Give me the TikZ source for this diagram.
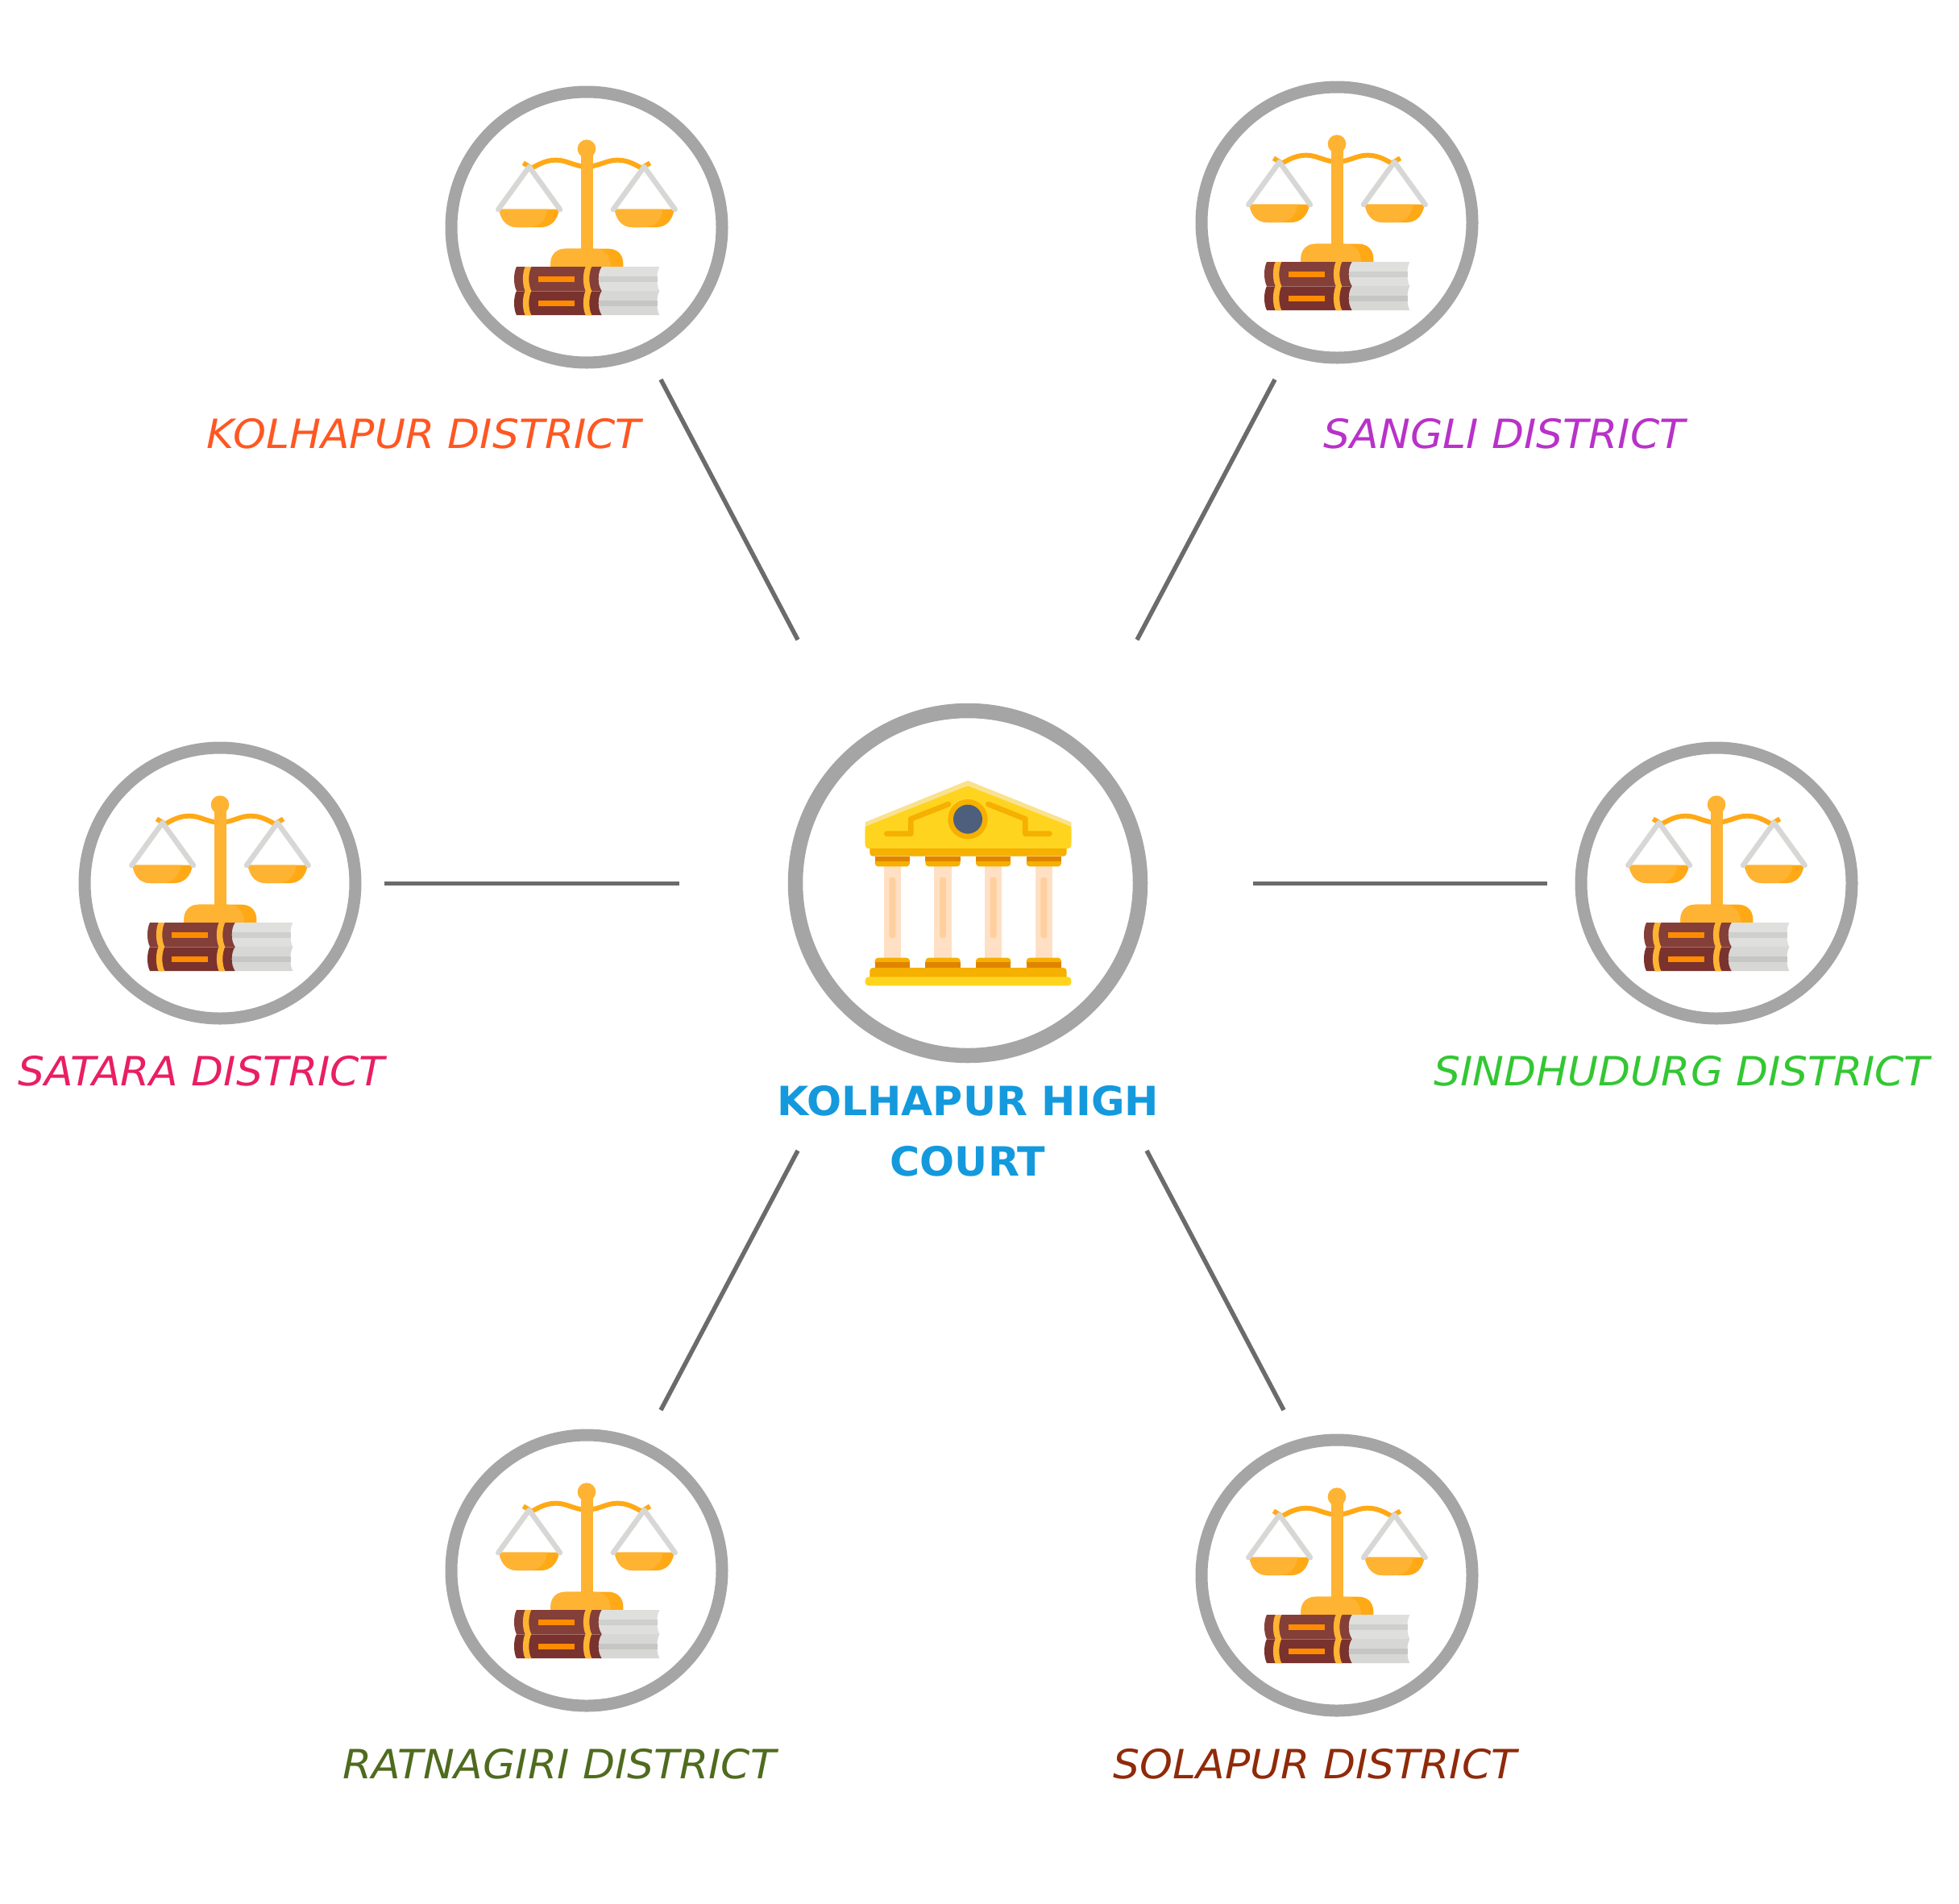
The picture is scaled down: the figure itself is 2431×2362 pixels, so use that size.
\documentclass[tikz,border=0pt]{standalone}
\usepackage{fontspec}
\setmainfont{DejaVu Sans}
\newfontfamily\distfont{DejaVu Sans}[FakeStretch=1.04]
\newfontfamily\courtfont{DejaVu Sans}[FakeStretch=1.013]
\definecolor{ringgray}{HTML}{A5A5A5}
\definecolor{linkgray}{HTML}{6B6B6B}
\definecolor{gold}{HTML}{FFB332}
\definecolor{golddk}{HTML}{FFA916}
\definecolor{chaingray}{HTML}{D7D7D5}
\definecolor{bookA}{HTML}{843F38}
\definecolor{bookB}{HTML}{7A322E}
\definecolor{pageA}{HTML}{DFDFDD}
\definecolor{pageAb}{HTML}{CFCFCD}
\definecolor{pageBb}{HTML}{C6C6C4}
\definecolor{tagorange}{HTML}{FF8C00}
\definecolor{roofY}{HTML}{FFD41F}
\definecolor{roofL}{HTML}{F9E28F}
\definecolor{amber}{HTML}{F5B000}
\definecolor{amberdk}{HTML}{E08400}
\definecolor{colA}{HTML}{FFE0C4}
\definecolor{colB}{HTML}{FFD09E}
\definecolor{slate}{HTML}{4D5F7C}
\definecolor{cKol}{HTML}{FF5722}
\definecolor{cSan}{HTML}{B832C8}
\definecolor{cSat}{HTML}{E91E63}
\definecolor{cSin}{HTML}{33C733}
\definecolor{cRat}{HTML}{4F6B1E}
\definecolor{cSol}{HTML}{8F2A0A}
\definecolor{cCourt}{HTML}{1499DD}
\tikzset{
 x=1pt,y=-1pt,
 ringsmall/.style={circle,draw=ringgray,fill=white,line width=15pt,minimum size=336pt,inner sep=0pt},
 ringbig/.style={circle,draw=ringgray,fill=white,line width=18.5pt,minimum size=428pt,inner sep=0pt},
 link/.style={draw=linkgray,line width=5.5pt},
 dist/.style={font=\fontsize{50}{60}\selectfont\distfont\itshape,inner sep=0pt,anchor=base},
 court/.style={font=\fontsize{50}{75}\selectfont\courtfont\bfseries,text=cCourt,align=center,inner sep=0pt},
 beam/.style={draw=golddk,line width=6pt},
 chain/.style={draw=chaingray,line width=6.5pt,line cap=round,line join=round},
 deco/.style={draw=amber,line width=6.7pt,line cap=round,line join=round},
 pics/scaleicon/.style={code={
  \begin{scope}[scale=1/3]
   % beam
   \draw[beam] (-236,-239) -- (-204,-220) .. controls (-170,-240) and (-145,-250) .. (-114,-250) .. controls (-80,-250) and (-60,-235) .. (-19,-227);
   \draw[beam] (236,-239) -- (204,-220) .. controls (170,-240) and (145,-250) .. (114,-250) .. controls (80,-250) and (60,-235) .. (19,-227);
   % column and ball
   \fill[gold] (-22,-290) rectangle (23,90);
   \fill[gold] (0,-292) circle (34);
   % base
   \fill[golddk] (-134,147) -- (-134,135) .. controls (-134,100) and (-110,80) .. (-79,80) -- (81,80) .. controls (112,80) and (136,100) .. (136,135) -- (136,147) -- cycle;
   \fill[gold] (-134,147) -- (-134,135) .. controls (-134,100) and (-110,80) .. (-79,80) -- (30,80) .. controls (65,80) and (90,105) .. (90,147) -- cycle;
   % pans
   \fill[golddk] (-326,-67) -- (-102,-67) .. controls (-108,-25) and (-135,0) .. (-170,0) -- (-260,0) .. controls (-295,0) and (-320,-25) .. (-326,-67) -- cycle;
   \fill[gold] (-326,-67) -- (-146,-67) .. controls (-150,-30) and (-175,0) .. (-215,0) -- (-260,0) .. controls (-295,0) and (-320,-25) .. (-326,-67) -- cycle;
   \fill[golddk] (104,-67) -- (326,-67) .. controls (320,-25) and (295,0) .. (260,0) -- (170,0) .. controls (135,0) and (110,-25) .. (104,-67) -- cycle;
   \fill[gold] (104,-67) -- (284,-67) .. controls (280,-30) and (255,0) .. (215,0) -- (170,0) .. controls (135,0) and (110,-25) .. (104,-67) -- cycle;
   % chains
   \draw[chain] (-329,-66) -- (-214,-225) -- (-99,-66);
   \draw[chain] (99,-66) -- (214,-225) -- (329,-66);
   % pages
   \fill[pageA] (40,147) -- (271,147) .. controls (259,170) and (259,215) .. (271,237) -- (40,237) -- cycle;
   \fill[pageAb] (40,182) rectangle (264,205);
   \fill[chaingray] (40,237) -- (271,237) .. controls (259,260) and (259,305) .. (271,327) -- (40,327) -- cycle;
   \fill[pageBb] (40,272) rectangle (264,294);
   % book spines
   \fill[bookA] (-261,147) -- (56,147) .. controls (40,170) and (40,215) .. (56,237) -- (-261,237) .. controls (-273,215) and (-273,170) .. (-261,147) -- cycle;
   \fill[bookB] (-261,237) -- (56,237) .. controls (40,260) and (40,305) .. (56,327) -- (-261,327) .. controls (-273,305) and (-273,260) .. (-261,237) -- cycle;
   \draw[bookA!75!white,line width=.6pt] (-261,237) -- (50,237);
   % gold stripes
   \foreach \dx in {0,225}{
    \fill[gold] (-229+\dx,147) .. controls (-240+\dx,170) and (-240+\dx,215) .. (-229+\dx,237) -- (-206+\dx,237) .. controls (-218+\dx,215) and (-218+\dx,170) .. (-206+\dx,147) -- cycle;
    \fill[gold] (-229+\dx,237) .. controls (-240+\dx,260) and (-240+\dx,305) .. (-229+\dx,327) -- (-206+\dx,327) .. controls (-218+\dx,305) and (-218+\dx,260) .. (-206+\dx,237) -- cycle;
   }
   % tags
   \fill[tagorange] (-181,182) rectangle (-46,205);
   \fill[tagorange] (-181,272) rectangle (-46,295);
  \end{scope}
 }},
 pics/courticon/.style={code={
  \begin{scope}[scale=1/3]
   % roof
   \fill[roofL] (-382,-227) -- (0,-382) -- (385,-227) -- (385,-205) -- (0,-362) -- (-382,-205) -- cycle;
   \fill[roofY,rounded corners=4pt] (-382,-210) -- (0,-362) -- (385,-210) -- (385,-129) -- (-382,-129) -- cycle;
   \fill[roofY] (-382,-210) -- (0,-362) -- (385,-210) -- (385,-150) -- (-382,-150) -- cycle;
   % entablature
   \fill[amber,rounded corners=4pt] (-365,-140) -- (368,-140) -- (368,-100) -- (-365,-100) -- cycle;
   \fill[roofY] (-375,-145) rectangle (378,-129);
   % columns
   \foreach \cx in {-281,-93,95,283}{
    \fill[colA] (\cx-32,-62) rectangle (\cx+32,278);
    \fill[colB,rounded corners=3pt] (\cx-12,-22) rectangle (\cx+12,205);
    \fill[amber,rounded corners=4pt] (\cx-65,-90) rectangle (\cx+65,-62);
    \fill[amberdk] (\cx-65,-100) rectangle (\cx+65,-80);
    \fill[amber,rounded corners=4pt] (\cx-65,278) rectangle (\cx+65,310);
    \fill[amberdk] (\cx-65,295) rectangle (\cx+65,315);
   }
   % platform
   \fill[amber,rounded corners=4pt] (-365,315) rectangle (368,360);
   \fill[roofY,rounded corners=4pt] (-382,349) rectangle (385,382);
   % pediment ornament
   \draw[deco] (-72,-294) -- (-212,-239) -- (-212,-184) -- (-302,-184);
   \draw[deco] (76,-294) -- (214,-239) -- (214,-184) -- (304,-184);
   \fill[amber] (0,-238) circle (74);
   \fill[slate] (0,-238) circle (54);
  \end{scope}
 }}
}
\begin{document}
\begin{tikzpicture}
\useasboundingbox (0,0) rectangle (2431,2362);
% hub and districts
\node[ringbig] (hc) at (1201,1096) {};
\node[ringsmall] (kol) at (728,282) {};
\node[ringsmall] (san) at (1659,276) {};
\node[ringsmall] (sat) at (273,1096) {};
\node[ringsmall] (sin) at (2130,1096) {};
\node[ringsmall] (rat) at (728,1949) {};
\node[ringsmall] (sol) at (1659,1955) {};
\pic at (hc.center) {courticon};
\pic at (kol.center) {scaleicon};
\pic at (san.center) {scaleicon};
\pic at (sat.center) {scaleicon};
\pic at (sin.center) {scaleicon};
\pic at (rat.center) {scaleicon};
\pic at (sol.center) {scaleicon};
% labels
\node[dist,text=cKol] (lkol) at (526,556) {KOLHAPUR DISTRICT};
\node[dist,text=cSan] (lsan) at (1867,556) {SANGLI DISTRICT};
\node[dist,text=cSat] (lsat) at (250,1347) {SATARA DISTRICT};
\node[dist,text=cSin] (lsin) at (2087,1347) {SINDHUDURG DISTRICT};
\node[dist,text=cRat] (lrat) at (694,2207) {RATNAGIRI DISTRICT};
\node[dist,text=cSol] (lsol) at (1632,2207) {SOLAPUR DISTRICT};
\node[court] (lhc) at (1201,1404) {KOLHAPUR HIGH\\COURT};
% connector ends
\coordinate (a1) at (820,471); \coordinate (a2) at (990,794);
\coordinate (b1) at (1582,471); \coordinate (b2) at (1411,794);
\coordinate (c1) at (477,1096.5); \coordinate (c2) at (843,1096.5);
\coordinate (d1) at (1555,1096.5); \coordinate (d2) at (1920,1096.5);
\coordinate (e1) at (820,1750); \coordinate (e2) at (990,1428);
\coordinate (f1) at (1593,1750); \coordinate (f2) at (1423,1428);
\draw[link] (a1) -- (a2);
\draw[link] (b1) -- (b2);
\draw[link] (c1) -- (c2);
\draw[link] (d1) -- (d2);
\draw[link] (e1) -- (e2);
\draw[link] (f1) -- (f2);
\end{tikzpicture}
\end{document}
